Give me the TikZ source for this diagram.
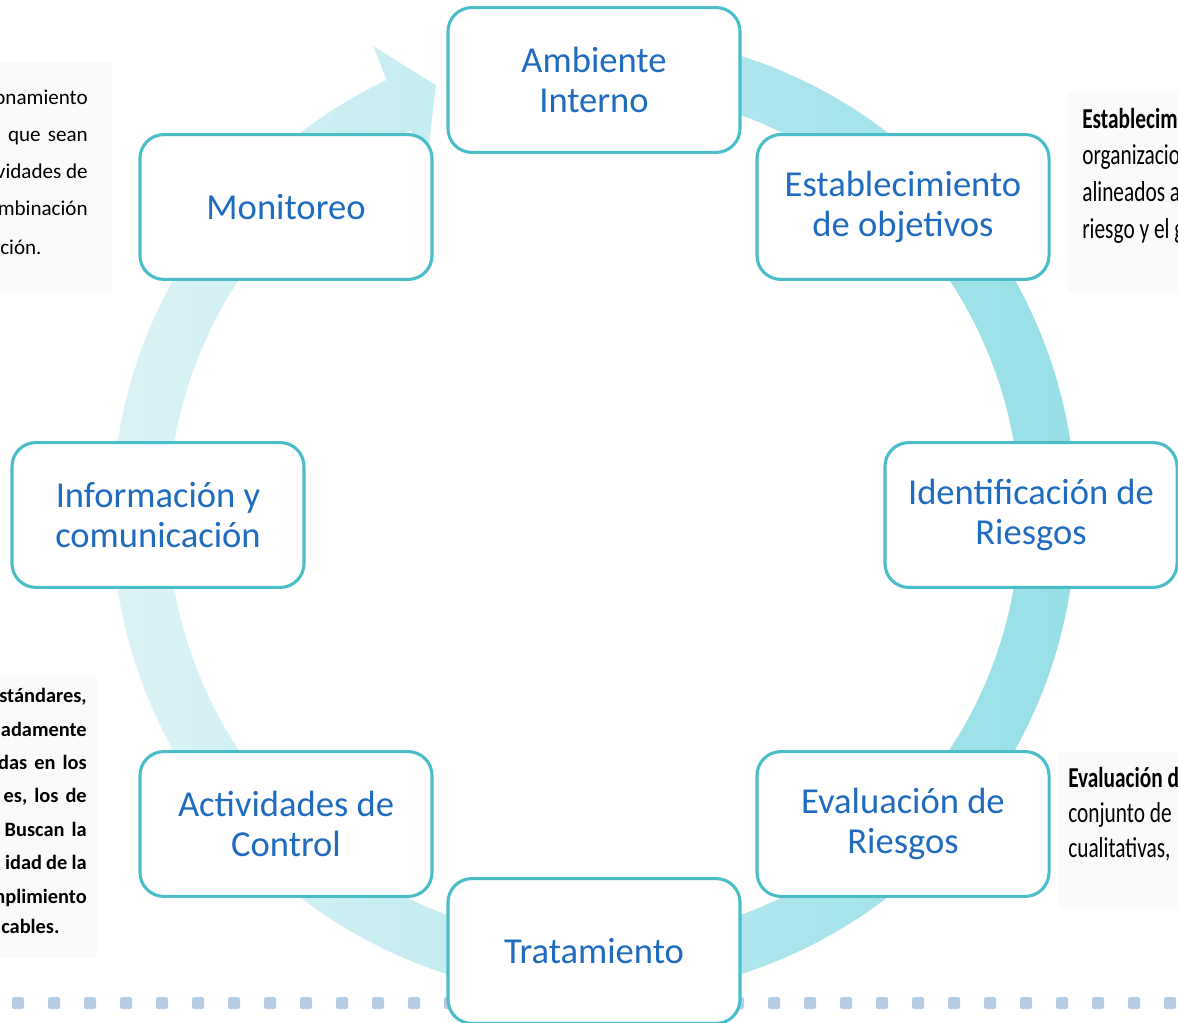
\documentclass[tikz,border=0pt]{standalone}
\usepackage{fontspec}
\usepackage{graphicx}
\setmainfont{Carlito}
\definecolor{boxline}{HTML}{4ABEC8}
\definecolor{boxtext}{HTML}{1F6BBF}
\definecolor{ringL}{HTML}{DFF4F7}
\definecolor{ringR}{HTML}{94DEE7}
\definecolor{dotc}{HTML}{B5CCE4}
\definecolor{snipbg}{HTML}{FAFAFA}
\begin{document}
\begin{tikzpicture}[x=0.025cm,y=-0.025cm,
  stagebox/.style={draw=boxline, line width=2.2pt, fill=white, rounded corners=17pt,
    minimum width=7.3cm, minimum height=3.62cm, align=center, text=boxtext,
    font=\fontsize{26}{29}\selectfont, inner sep=2pt},
  snipL/.style={inner sep=0pt, text=black, font=\fontsize{15}{17}\selectfont},
  snipLB/.style={inner sep=0pt, text=black, font=\fontsize{14.5}{17}\bfseries},
  snipR/.style={inner sep=0pt, text=black, font=\fontsize{20.5}{23}\selectfont},
  dotsq/.style={fill=dotc, rounded corners=1.5pt}]
\useasboundingbox (0,0) rectangle (1178,1023);
% snippet backgrounds
\fill[snipbg] (0,62) rectangle (112,295);
\fill[snipbg] (1068,92) rectangle (1178,292);
\fill[snipbg] (1058,752) rectangle (1178,908);
\fill[snipbg] (0,675) rectangle (97,958);
% left-top snippet
\node[snipL, anchor=base east] (lt1) at (88,105) {onamiento};
\node[snipL, anchor=base east] (lt2) at (88,142) {que\hspace{5pt}sean};
\node[snipL, anchor=base east] (lt3) at (88,179) {vidades de};
\node[snipL, anchor=base east] (lt4) at (88,216) {mbinación};
\node[snipL, anchor=base west] (lt5) at (0,255) {ción.};
% left-bottom snippet
\node[snipLB, anchor=base east] (lb1) at (87,702) {stándares,};
\node[snipLB, anchor=base east] (lb2) at (87,736) {adamente};
\node[snipLB, anchor=base east] (lb3) at (87,769) {das\hspace{5pt}en\hspace{5pt}los};
\node[snipLB, anchor=base east] (lb4) at (87,802) {es,\hspace{5pt}los\hspace{5pt}de};
\node[snipLB, anchor=base east] (lb5) at (87,836) {Buscan\hspace{5pt}la};
\node[snipLB, anchor=base east] (lb6) at (87,869) {idad\hspace{3pt}de\hspace{3pt}la};
\node[snipLB, anchor=base east] (lb7) at (87,903) {nplimiento};
\node[snipLB, anchor=base west] (lb8) at (1,933) {cables.};
% right-top snippet
\node[snipR, anchor=base west] (rt1) at (1082,129) {\scalebox{0.74}[1]{\bfseries Establecim}};
\node[snipR, anchor=base west] (rt2) at (1082,165) {\scalebox{0.74}[1]{organizacio}};
\node[snipR, anchor=base west] (rt3) at (1082,202) {\scalebox{0.74}[1]{alineados a}};
\node[snipR, anchor=base west] (rt4) at (1082,239) {\scalebox{0.74}[1]{riesgo y el g}};
% right-bottom snippet
\node[snipR, anchor=base west] (rb1) at (1068,787) {\scalebox{0.74}[1]{\bfseries Evaluación d}};
\node[snipR, anchor=base west] (rb2) at (1068,822) {\scalebox{0.74}[1]{conjunto de}};
\node[snipR, anchor=base west] (rb3) at (1068,857) {\scalebox{0.74}[1]{cualitativas,}};
% ring arrow
\begin{scope}[shift={(594,515)}]
\shade[left color=ringL, right color=ringR]
  (-80:482) arc[start angle=-80, end angle=244.5, radius=482]
  -- (244.8:518) -- (249.8:458) -- (244.8:392) -- (244.5:426)
  arc[start angle=244.5, end angle=-80, radius=426] -- cycle;
\end{scope}
% dotted line
\foreach \k in {0,...,32} {
  \fill[dotsq] ({18+36*\k-6},997) rectangle ++(12,12);
}
% stage boxes
\node[stagebox] (amb) at (594,80) {Ambiente\\Interno};
\node[stagebox] (est) at (903,207) {Establecimiento\\de objetivos};
\node[stagebox] (ide) at (1031,515) {Identificación de\\Riesgos};
\node[stagebox] (eva) at (903,824) {Evaluación de\\Riesgos};
\node[stagebox] (tra) at (594,951) {Tratamiento};
\node[stagebox] (act) at (286,824) {Actividades de\\Control};
\node[stagebox] (inf) at (158,515) {Información y\\comunicación};
\node[stagebox] (mon) at (286,207) {Monitoreo};
\end{tikzpicture}
\end{document}
